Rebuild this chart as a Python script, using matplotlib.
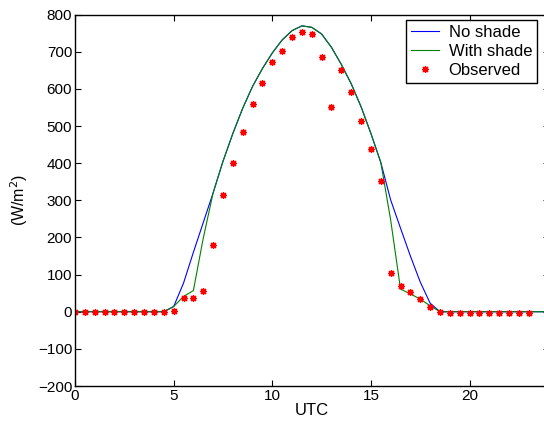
import numpy as np
import matplotlib
matplotlib.use("Agg")
import matplotlib.pyplot as plt

plt.rcParams['font.family'] = ['Liberation Sans', 'DejaVu Sans']

# Model time grid (hours UTC)
t_model = [0, 0.5, 1, 1.5, 2, 2.5, 3, 3.5, 4, 4.5, 5, 5.5, 6, 6.5, 7, 7.5, 8, 8.5,
           9, 9.5, 10, 10.5, 11, 11.5, 12, 12.5, 13, 13.5, 14, 14.5, 15, 15.5,
           16, 16.5, 17, 17.5, 18, 18.5, 19, 19.5, 20, 20.5, 21, 21.5, 22, 22.5,
           23, 23.5, 24]

no_shade = [0, 0, 0, 0, 0, 0, 0, 0, 0, 0, 14, 77, 160, 240, 320, 405, 480, 548,
            607, 655, 697, 732, 757, 770, 766, 748, 712, 666, 614, 552, 480, 402,
            301, 225, 150, 80, 23, 0, 0, 0, 0, 0, 0, 0, 0, 0, 0, 0, 0]

with_shade = [0, 0, 0, 0, 0, 0, 0, 0, 0, 0, 14, 41, 57, 198, 320, 405, 480, 548,
              607, 655, 697, 732, 757, 770, 766, 748, 712, 666, 614, 552, 480, 402,
              247, 61, 48, 34, 16, 0, 0, 0, 0, 0, 0, 0, 0, 0, 0, 0, 0]

t_obs = [0, 0.5, 1, 1.5, 2, 2.5, 3, 3.5, 4, 4.5, 5, 5.5, 6, 6.5, 7, 7.5, 8, 8.5,
         9, 9.5, 10, 10.5, 11, 11.5, 12, 12.5, 13, 13.5, 14, 14.5, 15, 15.5,
         16, 16.5, 17, 17.5, 18, 18.5, 19, 19.5, 20, 20.5, 21, 21.5, 22, 22.5, 23]

observed = [0, 0, 0, 0, 0, 0, 0, 0, 0, 0, 3, 36, 38, 57, 179, 315, 400, 484,
            560, 617, 672, 703, 740, 754, 749, 685, 552, 650, 592, 514, 439, 351,
            105, 70, 52, 34, 14, -2, -4, -4, -4, -4, -4, -4, -4, -4, -4]

x_ticks = [0, 5, 10, 15, 20]
y_ticks = [-200, -100, 0, 100, 200, 300, 400, 500, 600, 700, 800]

fig = plt.figure(figsize=(5.44, 4.26), dpi=100)
ax = fig.add_axes([75/544, 40/426, 473.5/544, 371.3/426])

ax.plot(t_model, no_shade, color='#0000ff', lw=0.8, label='No shade')
ax.plot(t_model, with_shade, color='#008000', lw=0.8, label='With shade')
ax.plot(t_obs, observed, linestyle='none', marker=(8, 2, 0), markersize=5,
        markeredgewidth=0.9, color='#ff0000', label='Observed')

ax.set_xlim(0, 24)
ax.set_ylim(-200, 800)
ax.set_xticks(x_ticks)
ax.set_yticks(y_ticks)
ax.tick_params(direction='in', length=4, width=0.8, top=True, right=True,
               labelsize=11, pad=2)
for s in ax.spines.values():
    s.set_linewidth(1.0)

ax.set_xlabel('UTC', fontsize=12, labelpad=0)
ax.set_ylabel('(W/m$^2$)', fontsize=11.5, labelpad=6)

leg = ax.legend(loc='upper right', fontsize=12, frameon=True, fancybox=False,
                edgecolor='black', framealpha=1, borderaxespad=0.3,
                handlelength=1.7, handletextpad=0.55, borderpad=0.32,
                labelspacing=0.23, bbox_to_anchor=(0.987, 1.0))
leg.get_frame().set_linewidth(1.0)

fig.savefig('out.png', dpi=100)
